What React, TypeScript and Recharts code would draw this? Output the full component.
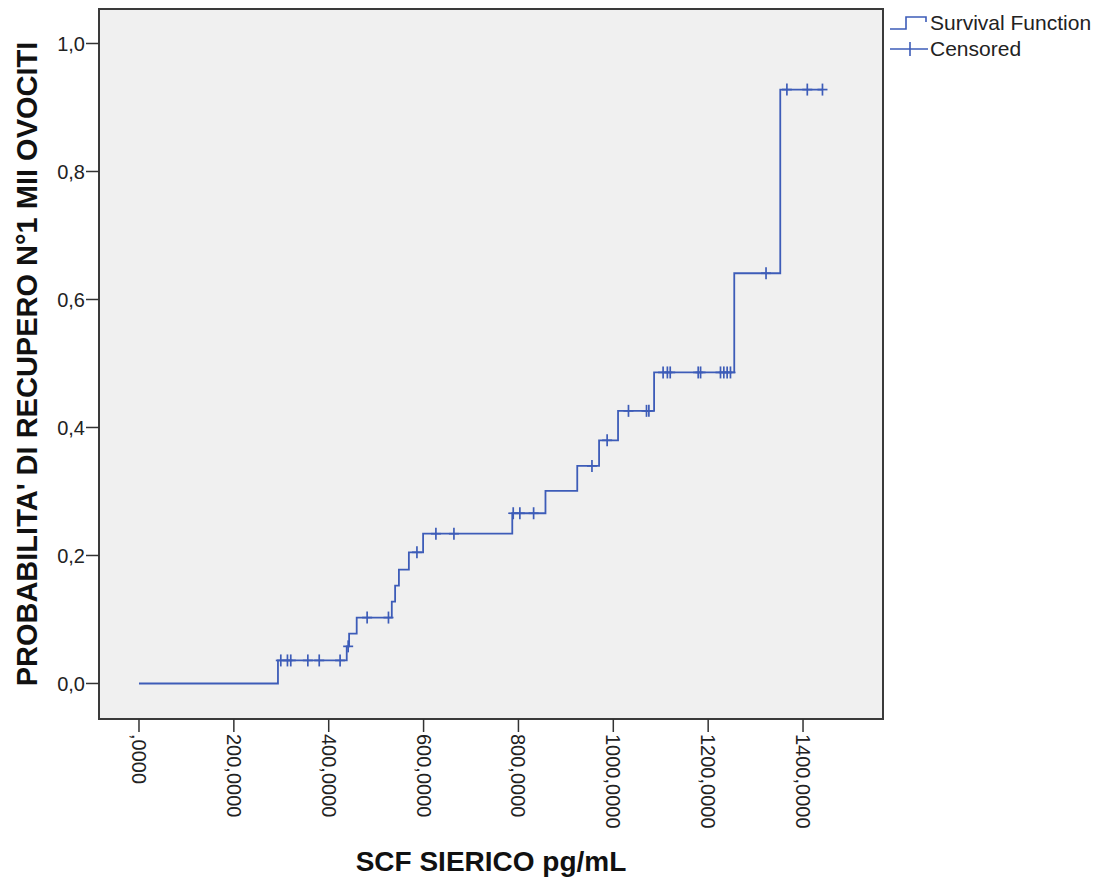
import React from 'react';
import {
  ComposedChart,
  Line,
  Scatter,
  XAxis,
  YAxis,
  CartesianGrid,
  ReferenceArea,
} from 'recharts';

// Kaplan-Meier step curve (event times and cumulative probability after each step)
const eventTimes = [0, 293, 438, 443, 459, 533, 540, 548, 569, 599, 787, 857, 924, 970, 1010, 1086, 1255, 1352];
const eventProbs = [0, 0.036, 0.058, 0.078, 0.103, 0.128, 0.153, 0.178, 0.205, 0.234, 0.266, 0.301, 0.340, 0.380, 0.426, 0.486, 0.641, 0.928];
const curveEnd = 1441;

// censored observations
const censoredTimes = [
  299, 313, 320, 356, 380, 424, 441, 481, 526, 586, 626, 664,
  789, 803, 832, 955, 987, 1032, 1070, 1075,
  1105, 1114, 1120, 1179, 1184, 1226, 1233, 1240, 1247,
  1322, 1366, 1409, 1441,
];

const xTicks = [0, 200, 400, 600, 800, 1000, 1200, 1400];
const xTickLabels = [',0000', '200,0000', '400,0000', '600,0000', '800,0000', '1000,0000', '1200,0000', '1400,0000'];
const yTicks = [0, 0.2, 0.4, 0.6, 0.8, 1.0];
const yTickLabels = ['0,0', '0,2', '0,4', '0,6', '0,8', '1,0'];

const X_DOMAIN: [number, number] = [-84.3, 1568.6];
const Y_DOMAIN: [number, number] = [-0.0555, 1.0539];

const BLUE = '#3d5cb8';
const FONT = '"Liberation Sans", Arial, sans-serif';

const curveData = [
  ...eventTimes.map((t, i) => ({ t, p: eventProbs[i] })),
  { t: curveEnd, p: eventProbs[eventProbs.length - 1] },
];

// a censored mark sits on the curve level in force at that time
const levelAt = (t: number) => {
  let p = 0;
  eventTimes.forEach((et, i) => {
    if (et <= t) p = eventProbs[i];
  });
  return p;
};
const censoredData = censoredTimes.map((t) => ({ t, p: levelAt(t) }));

const CensorMark = (props: any) => {
  const { cx, cy } = props;
  return (
    <g stroke={BLUE} strokeWidth={1.7}>
      <line x1={cx - 5} x2={cx + 5} y1={cy} y2={cy} />
      <line x1={cx} x2={cx} y1={cy - 6} y2={cy + 6} />
    </g>
  );
};

const XTick = (props: any) => {
  const { x, y, payload } = props;
  const idx = xTicks.indexOf(payload.value);
  return (
    <g transform={`translate(${x},${y})`}>
      <text
        transform="rotate(90)"
        x={0}
        y={0}
        dy="0.35em"
        textAnchor="start"
        fill="#222"
        fontSize={20}
        fontFamily={FONT}
      >
        {xTickLabels[idx]}
      </text>
    </g>
  );
};

const XTitle = (props: any) => {
  const { x, width } = props.viewBox;
  return (
    <text x={x + width / 2} y={871} textAnchor="middle" fontSize={28} fontWeight="bold" fill="#111" fontFamily={FONT}>
      SCF SIERICO pg/mL
    </text>
  );
};

const YTitle = (props: any) => {
  const { y, height } = props.viewBox;
  const cx = 27;
  const cy = y + height / 2;
  return (
    <text
      x={cx}
      y={cy}
      transform={`rotate(-90, ${cx}, ${cy})`}
      textAnchor="middle"
      dominantBaseline="central"
      fontSize={29}
      fontWeight="bold"
      fill="#111"
      fontFamily={FONT}
    >
      PROBABILITA' DI RECUPERO N°1 MII OVOCITI
    </text>
  );
};

export default function App() {
  return (
    <div style={{ position: 'absolute', left: 0, top: 0, width: 1103, height: 881, background: '#fff' }}>
      <ComposedChart width={1103} height={881} margin={{ top: 9, right: 220, bottom: 0, left: 0 }}>
        <CartesianGrid fill="#f0f0f0" horizontal={false} vertical={false} />
        <XAxis
          type="number"
          dataKey="t"
          domain={X_DOMAIN}
          ticks={xTicks}
          interval={0}
          allowDataOverflow
          height={162}
          axisLine={false}
          tickSize={13}
          tickMargin={2}
          tickLine={{ stroke: '#333', strokeWidth: 1.5 }}
          tick={<XTick />}
          label={<XTitle />}
        />
        <YAxis
          type="number"
          dataKey="p"
          domain={Y_DOMAIN}
          ticks={yTicks}
          interval={0}
          allowDataOverflow
          width={99}
          axisLine={false}
          tickSize={13}
          tickMargin={1}
          tickLine={{ stroke: '#333', strokeWidth: 1.5 }}
          tickFormatter={(v: number) => yTickLabels[yTicks.indexOf(v)]}
          tick={{ fill: '#222', fontSize: 20, fontFamily: FONT }}
          label={<YTitle />}
        />
        <Line
          data={curveData}
          dataKey="p"
          type="stepAfter"
          stroke={BLUE}
          strokeWidth={1.8}
          dot={false}
          activeDot={false}
          isAnimationActive={false}
        />
        <Scatter data={censoredData} dataKey="p" shape={<CensorMark />} isAnimationActive={false} />
        <ReferenceArea
          x1={X_DOMAIN[0]}
          x2={X_DOMAIN[1]}
          y1={Y_DOMAIN[0]}
          y2={Y_DOMAIN[1]}
          fill="none"
          stroke="#3a3a3a"
          strokeWidth={2}
          ifOverflow="visible"
        />
      </ComposedChart>
      <div style={{ position: 'absolute', left: 889, top: 10, fontFamily: FONT, fontSize: 21, color: '#222', lineHeight: '26px' }}>
        <div style={{ display: 'flex', alignItems: 'center' }}>
          <svg width={40} height={26}>
            <polyline points="1,19 17,19 17,7 37,7 37,12" fill="none" stroke={BLUE} strokeWidth={1.6} />
          </svg>
          <span style={{ marginLeft: 1 }}>Survival Function</span>
        </div>
        <div style={{ display: 'flex', alignItems: 'center' }}>
          <svg width={40} height={26}>
            <line x1={1} x2={39} y1={13} y2={13} stroke={BLUE} strokeWidth={1.6} />
            <line x1={21} x2={21} y1={6} y2={20} stroke={BLUE} strokeWidth={1.6} />
          </svg>
          <span style={{ marginLeft: 1 }}>Censored</span>
        </div>
      </div>
    </div>
  );
}
